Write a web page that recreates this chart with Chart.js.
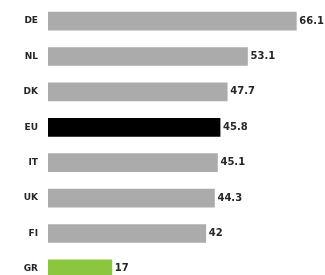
<!DOCTYPE html>
<html>
<head>
<meta charset="utf-8">
<script src="https://cdn.jsdelivr.net/npm/chart.js@4"></script>
<style>
  html, body { margin: 0; padding: 0; background: #fff; overflow: hidden; }
  #wrap { position: relative; width: 325px; height: 298px; margin-top: -4px; }
</style>
</head>
<body>
<div id="wrap"><canvas id="barChart"></canvas></div>
<script>
// --- data ---
const countries = ["DE", "NL", "DK", "EU", "IT", "UK", "FI", "GR"];
const values = [66.1, 53.1, 47.7, 45.8, 45.1, 44.3, 42, 17];
const barColors = ["#ababab", "#ababab", "#ababab", "#000000", "#ababab", "#ababab", "#ababab", "#8cc63f"];

// value labels at the end of each bar
const valueLabels = {
    id: "valueLabels",
    afterDatasetsDraw(chart) {
        const ctx = chart.ctx;
        const meta = chart.getDatasetMeta(0);
        ctx.save();
        ctx.font = "bold 10px 'DejaVu Sans', sans-serif";
        ctx.fillStyle = "#262626";
        ctx.textBaseline = "middle";
        ctx.textAlign = "left";
        meta.data.forEach((bar, i) => {
            ctx.fillText(String(values[i]), bar.x + 3, bar.y);
        });
        ctx.restore();
    },
};

const ctx = document.getElementById("barChart").getContext("2d");
new Chart(ctx, {
    type: "bar",
    data: {
        labels: countries,
        datasets: [
            {
                data: values,
                backgroundColor: barColors,
                borderWidth: 0,
                barThickness: 18,
            },
        ],
    },
    options: {
        indexAxis: "y",
        responsive: true,
        maintainAspectRatio: false,
        animation: false,
        layout: { padding: { top: 0, bottom: 0, left: 0, right: 14 } },
        plugins: { legend: { display: false }, tooltip: { enabled: false } },
        scales: {
            x: {
                display: false,
                min: 0,
                max: 70,
            },
            y: {
                grid: { display: false },
                border: { display: false },
                afterFit(scale) { scale.width = 48; },
                ticks: {
                    padding: 2,
                    color: "#262626",
                    font: { family: "'DejaVu Sans', sans-serif", size: 9, weight: "bold" },
                },
            },
        },
    },
    plugins: [valueLabels],
});
</script>
</body>
</html>
